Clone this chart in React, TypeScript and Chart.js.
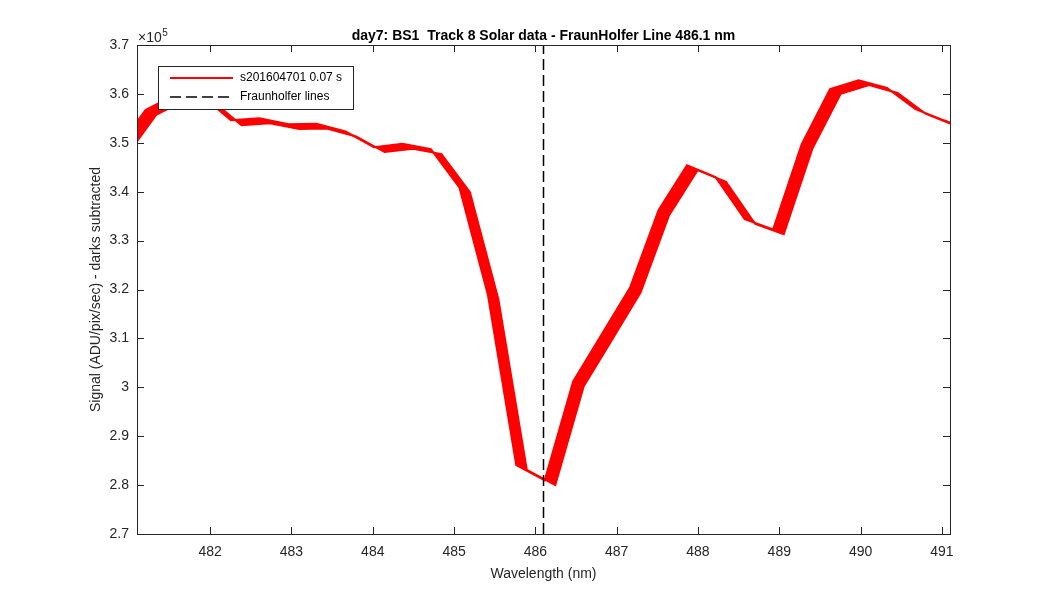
import { useEffect, useRef } from "react";
import { Chart, registerables } from "chart.js";

Chart.register(...registerables);

const TITLE = "day7: BS1  Track 8 Solar data - FraunHolfer Line 486.1 nm";
const X_LABEL = "Wavelength (nm)";
const Y_LABEL = "Signal (ADU/pix/sec) - darks subtracted";
const SERIES_LABEL = "s201604701 0.07 s";
const LINE_LABEL = "Fraunholfer lines";
const EXPONENT = "5";

const xRange = [481.1, 491.1];
const yRange = [2.7, 3.7];
const xTicks = [482, 483, 484, 485, 486, 487, 488, 489, 490, 491];
const yTicks = [2.7, 2.8, 2.9, 3.0, 3.1, 3.2, 3.3, 3.4, 3.5, 3.6, 3.7];
const fraunhoferNm = [486.1];

// Signal in units of 1e5 ADU/pix/sec; the two extreme frames bounding the plotted band
const frameAWavelength = [
  480.855, 481.205, 481.555, 481.905, 482.255, 482.605, 482.965, 483.305, 483.665, 484.015,
  484.365, 484.715, 485.065, 485.415, 485.765, 486.115, 486.465, 486.815, 487.165, 487.515,
  487.865, 488.215, 488.575, 488.925, 489.275, 489.625, 489.975, 490.325, 490.675, 491.025,
  491.375,
];
const frameASignal = [
  3.487, 3.567, 3.597, 3.595, 3.546, 3.55, 3.538, 3.539, 3.523, 3.491,
  3.498, 3.487, 3.409, 3.19, 2.841, 2.81, 3.012, 3.108, 3.204, 3.362,
  3.454, 3.43, 3.344, 3.323, 3.497, 3.61, 3.628, 3.612, 3.569, 3.546,
  3.525,
];
const frameBWavelength = [
  480.985, 481.335, 481.685, 482.035, 482.385, 482.735, 483.095, 483.435, 483.795, 484.145,
  484.495, 484.845, 485.195, 485.545, 485.895, 486.245, 486.595, 486.945, 487.295, 487.645,
  487.995, 488.345, 488.705, 489.055, 489.405, 489.755, 490.105, 490.455, 490.805, 491.155,
  491.505,
];
const frameBSignal = [
  3.477, 3.557, 3.587, 3.585, 3.536, 3.54, 3.528, 3.529, 3.513, 3.481,
  3.488, 3.477, 3.399, 3.18, 2.831, 2.8, 3.002, 3.098, 3.194, 3.352,
  3.444, 3.42, 3.334, 3.313, 3.487, 3.6, 3.618, 3.602, 3.559, 3.536,
  3.515,
];

const RED = "rgb(255,0,0)";
const AXIS = "#262626";
const FONT = "'Liberation Sans', Arial, Helvetica, sans-serif";
const DASH = [11, 5];

const toPoints = (xs: number[], ys: number[]) => xs.map((x, i) => ({ x, y: ys[i] }));

const matlabPlugin = {
  id: "matlabDecor",
  afterDatasetsDraw(chart: any) {
    const { ctx, chartArea: a, scales } = chart;
    const xs = scales.x;
    const ys = scales.y;
    ctx.save();
    ctx.strokeStyle = AXIS;
    ctx.lineWidth = 1;
    ctx.beginPath();
    const L = 7;
    for (const t of xTicks) {
      const px = Math.round(xs.getPixelForValue(t)) + 0.5;
      ctx.moveTo(px, a.bottom);
      ctx.lineTo(px, a.bottom - L);
      ctx.moveTo(px, a.top);
      ctx.lineTo(px, a.top + L);
    }
    for (const t of yTicks) {
      const py = Math.round(ys.getPixelForValue(t)) + 0.5;
      ctx.moveTo(a.left, py);
      ctx.lineTo(a.left + L, py);
      ctx.moveTo(a.right, py);
      ctx.lineTo(a.right - L, py);
    }
    ctx.stroke();
    ctx.strokeRect(Math.round(a.left) + 0.5, Math.round(a.top) + 0.5, Math.round(a.right - a.left), Math.round(a.bottom - a.top));

    const cx = (a.left + a.right) / 2;
    ctx.fillStyle = "#000";
    ctx.font = `bold 14px ${FONT}`;
    ctx.textAlign = "center";
    ctx.textBaseline = "alphabetic";
    ctx.fillText(TITLE, cx, 40);

    ctx.fillStyle = AXIS;
    ctx.font = `14px ${FONT}`;
    ctx.textBaseline = "middle";
    ctx.fillText(X_LABEL, cx, 574);
    ctx.save();
    ctx.translate(96, (a.top + a.bottom) / 2);
    ctx.rotate(-Math.PI / 2);
    ctx.fillText(Y_LABEL, 0, 0);
    ctx.restore();

    ctx.textAlign = "left";
    ctx.textBaseline = "alphabetic";
    ctx.font = `14px ${FONT}`;
    const base = "\u00d710";
    ctx.fillText(base, a.left + 1, 42);
    const w = ctx.measureText(base).width;
    ctx.font = `10px ${FONT}`;
    ctx.fillText(EXPONENT, a.left + 1 + w + 0.5, 36);

    const lx = 158, ly = 66, lw = 195, lh = 43;
    ctx.fillStyle = "#fff";
    ctx.fillRect(lx, ly, lw, lh);
    ctx.strokeStyle = AXIS;
    ctx.lineWidth = 1;
    ctx.strokeRect(lx + 0.5, ly + 0.5, lw, lh);
    const ds = chart.data.datasets;
    const entries = [ds[1], ds[0]];
    const rows = [78, 97];
    entries.forEach((d: any, i: number) => {
      const y = rows[i];
      ctx.beginPath();
      ctx.strokeStyle = d.borderColor;
      ctx.lineWidth = d.borderWidth;
      ctx.setLineDash(d.borderDash || []);
      ctx.moveTo(170, y);
      ctx.lineTo(233, y);
      ctx.stroke();
      ctx.setLineDash([]);
      ctx.fillStyle = "#000";
      ctx.font = `12px ${FONT}`;
      ctx.textBaseline = "middle";
      ctx.fillText(d.label, 240, y);
    });
    ctx.restore();
  },
};

export default function App() {
  const ref = useRef<HTMLCanvasElement | null>(null);
  useEffect(() => {
    if (!ref.current) return;
    const chart = new Chart(ref.current, {
      type: "line",
      data: {
        datasets: [
          {
            label: LINE_LABEL,
            data: [
              { x: fraunhoferNm[0], y: yRange[0] },
              { x: fraunhoferNm[0], y: yRange[1] },
            ],
            borderColor: "#000",
            borderWidth: 1.5,
            borderDash: DASH,
            pointRadius: 0,
            fill: false,
            clip: 0,
            order: 0,
          } as any,
          {
            label: SERIES_LABEL,
            data: toPoints(frameAWavelength, frameASignal),
            borderColor: RED,
            backgroundColor: RED,
            borderWidth: 2,
            pointRadius: 0,
            fill: false,
            clip: 0,
            order: 1,
          } as any,
          {
            label: SERIES_LABEL,
            data: toPoints(frameBWavelength, frameBSignal),
            borderColor: RED,
            backgroundColor: RED,
            borderWidth: 2,
            pointRadius: 0,
            fill: "-1",
            clip: 0,
            order: 2,
          } as any,
        ],
      },
      options: {
        responsive: false,
        animation: false,
        events: [],
        layout: { padding: { left: 0, right: 100, top: 45, bottom: 0 } },
        plugins: { legend: { display: false }, tooltip: { enabled: false }, title: { display: false } },
        elements: { line: { tension: 0 } },
        scales: {
          x: {
            type: "linear",
            min: xRange[0],
            max: xRange[1],
            grid: { display: false, drawTicks: false },
            border: { display: false },
            afterBuildTicks: (s: any) => {
              s.ticks = xTicks.map((v) => ({ value: v }));
            },
            afterFit: (s: any) => {
              s.height = 66;
            },
            ticks: {
              padding: 10,
              color: AXIS,
              font: { family: FONT, size: 14 },
              maxRotation: 0,
              autoSkip: false,
              callback: (v: any) => String(v),
            },
          },
          y: {
            type: "linear",
            min: yRange[0],
            max: yRange[1],
            grid: { display: false, drawTicks: false },
            border: { display: false },
            afterBuildTicks: (s: any) => {
              s.ticks = yTicks.map((v) => ({ value: v }));
            },
            afterFit: (s: any) => {
              s.width = 137;
            },
            ticks: {
              padding: 8,
              color: AXIS,
              font: { family: FONT, size: 14 },
              autoSkip: false,
              callback: (v: any) => String(Number(Number(v).toFixed(1))),
            },
          },
        },
      } as any,
      plugins: [matlabPlugin],
    });
    return () => chart.destroy();
  }, []);
  return (
    <div style={{ position: "fixed", left: 0, top: 0, width: 1050, height: 600, background: "#fff" }}>
      <canvas ref={ref} width={1050} height={600} style={{ width: 1050, height: 600, display: "block" }} />
    </div>
  );
}
